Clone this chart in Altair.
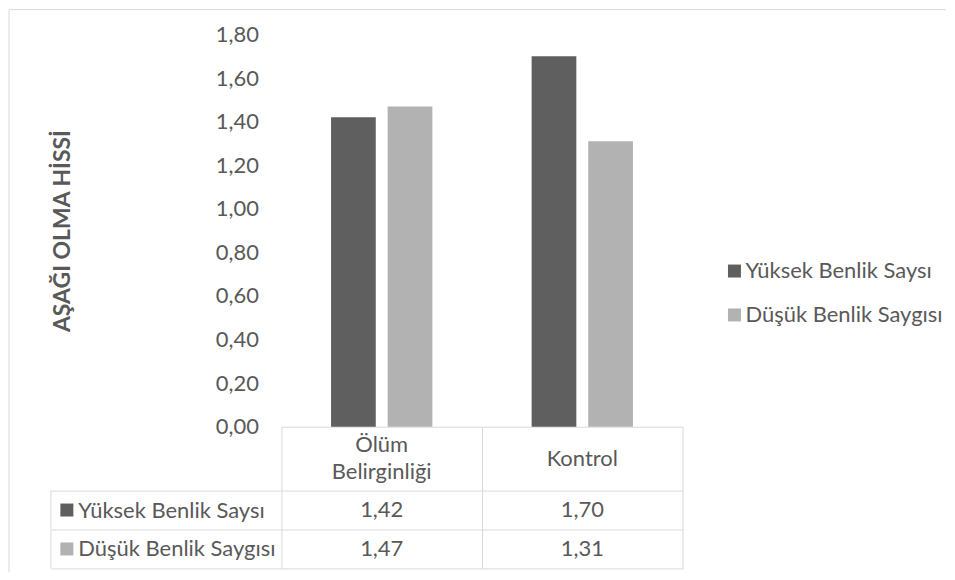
import altair as alt
import pandas as pd

categories = ["Ölüm Belirginliği", "Kontrol"]
series = ["Yüksek Benlik Saysı", "Düşük Benlik Saygısı"]
high_values = [1.42, 1.70]
low_values = [1.47, 1.31]
colors = ["#5f5f5f", "#b2b2b2"]
y_ticks = [0, 0.2, 0.4, 0.6, 0.8, 1.0, 1.2, 1.4, 1.6, 1.8]
y_title = "AŞAĞI OLMA HİSSİ"

rows = []
for s, vals in zip(series, [high_values, low_values]):
    for c, v in zip(categories, vals):
        rows.append({"cat": c, "series": s, "value": v})
df = pd.DataFrame(rows)
cdf = pd.DataFrame({"cat": categories})
sdf = pd.DataFrame({"series": series})
one = pd.DataFrame({"k": [0]})

FONT = "Lato"
TXT = "#595959"
LINE = "#d9d9d9"
FS = 22
W = 402
H = 393
HH = 64
TH = 78
LH = 27

color_scale = alt.Scale(domain=series, range=colors)
fmt = "replace(format(datum.value, '.2f'), '.', ',')"
band = alt.Scale(paddingInner=0, paddingOuter=0)

bars = alt.Chart(df).mark_bar().encode(
    x=alt.X("cat:N", sort=categories, scale=band,
            axis=alt.Axis(title=None, domainColor=LINE, tickColor=LINE, tickSize=HH,
                          tickBand="extent", labels=False)),
    xOffset=alt.XOffset("series:N", sort=series,
                        scale=alt.Scale(paddingInner=0.21, paddingOuter=0.877)),
    y=alt.Y("value:Q", scale=alt.Scale(domain=[0, 1.8], nice=False),
            axis=alt.Axis(values=y_ticks, labelExpr=fmt, title=y_title, domain=False,
                          ticks=False, grid=False, labelPadding=23, titlePadding=141,
                          titleFontSize=23, titleFontWeight="bold", titleColor=TXT,
                          titleFont=FONT, labelFontSize=FS, labelColor=TXT, labelFont=FONT)),
    color=alt.Color("series:N", sort=series, scale=color_scale,
                    legend=alt.Legend(title=None, orient="none", legendX=443, legendY=226,
                                      symbolType="square", symbolSize=169,
                                      symbolStrokeWidth=0, labelFontSize=FS,
                                      labelColor=TXT, labelFont=FONT, labelLimit=300,
                                      labelOffset=0, rowPadding=22)),
).properties(width=W, height=H)

half = HH / 2 / LH
header = alt.Chart(cdf).transform_calculate(
    lines="split(datum.cat, ' ')"
).transform_flatten(["lines"], as_=["line"]).transform_window(
    i="row_number()", groupby=["cat"]
).transform_joinaggregate(
    n="count()", groupby=["cat"]
).transform_calculate(
    pos="datum.i - 1 - (datum.n - 1) / 2"
).mark_text(font=FONT, fontSize=FS, color=TXT, baseline="middle").encode(
    x=alt.X("cat:N", sort=categories, scale=band, axis=None),
    y=alt.Y("pos:Q", scale=alt.Scale(domain=[-half, half], nice=False, zero=False,
                                     reverse=True), axis=None),
    text="line:N",
).properties(width=W, height=HH)

tbase = alt.Chart(df).transform_calculate(label=fmt)
ttext = tbase.mark_text(font=FONT, fontSize=FS, color=TXT).encode(
    x=alt.X("cat:N", sort=categories, scale=band,
            axis=alt.Axis(title=None, labels=False, ticks=False, domain=False, grid=True,
                          gridColor=LINE, tickBand="extent")),
    y=alt.Y("series:N", sort=series, scale=band,
            axis=alt.Axis(title=None, domain=False, grid=True, gridColor=LINE,
                          tickBand="extent", ticks=True, tickSize=231, tickColor=LINE,
                          labelAlign="left", labelBaseline="middle", labelPadding=-27,
                          labelFontSize=FS, labelColor=TXT, labelFont=FONT, labelLimit=300)),
    text="label:N",
)
tsq = alt.Chart(sdf).mark_square(size=169, opacity=1).encode(
    x=alt.value(-215),
    y=alt.Y("series:N", sort=series),
    color=alt.Color("series:N", sort=series, scale=color_scale, legend=None),
)
table_left = alt.Chart(one).mark_rule(color=LINE).encode(
    x=alt.value(-231), y=alt.value(0), y2=alt.value(TH))
frame_left = alt.Chart(one).mark_rule(color=LINE).encode(
    x=alt.value(-273), y=alt.value(-482), y2=alt.value(82))
frame_top = alt.Chart(one).mark_rule(color=LINE).encode(
    x=alt.value(-273), x2=alt.value(666), y=alt.value(-482))

table = alt.layer(ttext, tsq, table_left, frame_left, frame_top).properties(width=W, height=TH)

chart = alt.vconcat(bars, header, table, spacing=0, bounds="flush").resolve_scale(
    color="independent").properties(padding=0, background="white").configure_view(stroke=None)

chart.save("out.html", embed_options={"renderer": "svg", "actions": False})
